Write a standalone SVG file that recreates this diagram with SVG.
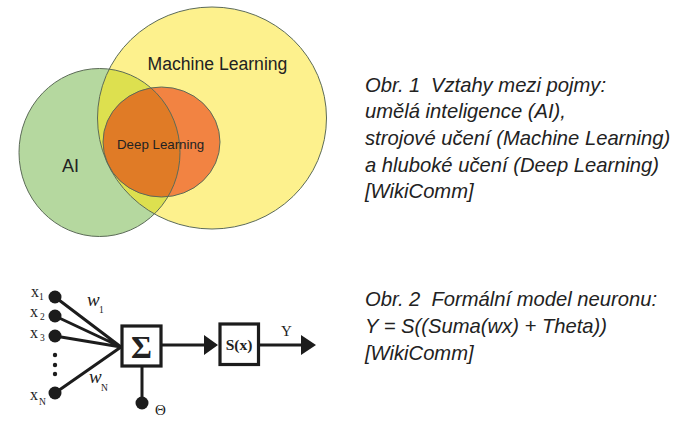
<svg xmlns="http://www.w3.org/2000/svg" width="696" height="431" viewBox="0 0 696 431">
<style>
.c{stroke:#5c6b58;stroke-width:1;fill:none}
.s{font-family:"Liberation Sans",Arial,sans-serif;fill:#222}
.cap{font-family:"Liberation Sans",Arial,sans-serif;font-style:italic;font-size:20.2px;fill:#222}
.t{font-family:"Liberation Serif","Times New Roman",serif;fill:#222}
.x{font-size:16px}
.u{font-size:9.5px}
.w{font-size:19px;font-style:italic}
.l{stroke:#1c1c1c;fill:none}
.d{fill:#1c1c1c}
.b{fill:#fff;stroke:#1c1c1c;stroke-width:3.2}
</style>
<defs>
<clipPath id="cg"><ellipse cx="99.5" cy="152.5" rx="80.5" ry="84"/></clipPath>
</defs>
<rect width="696" height="431" fill="#fff"/>
<g id="ai"><ellipse cx="99.5" cy="152.5" rx="80.5" ry="84" fill="#b5d89f"/></g>
<g id="ml"><ellipse cx="212" cy="118" rx="114.5" ry="111" fill="#fdf18d"/>
<ellipse cx="212" cy="118" rx="114.5" ry="111" fill="#dde04f" clip-path="url(#cg)"/></g>
<g id="dl"><ellipse cx="161.5" cy="142" rx="58.5" ry="55" fill="#f28342"/>
<ellipse cx="161.5" cy="142" rx="58.5" ry="55" fill="#e07b26" clip-path="url(#cg)"/></g>
<g id="outlines">
<ellipse class="c" cx="99.5" cy="152.5" rx="80.5" ry="84"/>
<ellipse class="c" cx="212" cy="118" rx="114.5" ry="111"/>
<ellipse class="c" cx="161.5" cy="142" rx="58.5" ry="55"/>
</g>
<text class="s" x="147.5" y="70" font-size="17.6">Machine Learning</text>
<text class="s" x="117" y="149" font-size="13.3">Deep Learning</text>
<text class="s" x="62" y="172" font-size="18">AI</text>

<g id="caption1" class="cap">
<text x="365" y="92">Obr. 1<tspan x="431">Vztahy mezi pojmy:</tspan></text>
<text x="365" y="118">umělá inteligence (AI),</text>
<text x="365" y="145">strojové učení (Machine Learning)</text>
<text x="365" y="172">a hluboké učení (Deep Learning)</text>
<text x="365" y="198">[WikiComm]</text>
</g>
<g id="caption2" class="cap">
<text x="365" y="306">Obr. 2<tspan x="431.5">Formální model neuronu:</tspan></text>
<text x="365" y="333">Y = S((Suma(wx) + Theta))</text>
<text x="365" y="360">[WikiComm]</text>
</g>

<g id="connectors">
<path class="l" stroke-width="3" d="M55 297L121 347M55 316L121 347M55 336L121 347M55 393L121 347"/>
<path class="l" stroke-width="3" d="M161 345H206M259 345H302M142 366V403"/>
<path class="d" d="M204 335L218 345L204 355ZM301 335L316 345L301 355Z"/>
</g>
<g id="x1"><circle class="d" cx="55" cy="297" r="6.5"/><text class="t x" x="31" y="297">x</text><text class="t u" x="39" y="300">1</text></g>
<g id="x2"><circle class="d" cx="55" cy="316" r="6.5"/><text class="t x" x="30" y="317">x</text><text class="t u" x="40" y="320">2</text></g>
<g id="x3"><circle class="d" cx="55" cy="336" r="6.5"/><text class="t x" x="30" y="338">x</text><text class="t u" x="40" y="341">3</text></g>
<g id="dots"><circle class="d" cx="55" cy="355" r="2.2"/><circle class="d" cx="55" cy="365" r="2.2"/><circle class="d" cx="55" cy="374" r="2.2"/></g>
<g id="xN"><circle class="d" cx="55" cy="393" r="6.5"/><text class="t x" x="30" y="400">x</text><text class="t u" x="39" y="405">N</text></g>
<g id="w1"><text class="t w" x="87" y="306">w</text><text class="t u" x="99" y="313">1</text></g>
<g id="wN"><text class="t w" x="89" y="383">w</text><text class="t u" x="101" y="391">N</text></g>
<g id="sum"><rect class="b" x="122" y="326" width="39" height="40"/><text class="t" x="141.5" y="358" font-size="32" font-weight="bold" text-anchor="middle">Σ</text></g>
<g id="theta"><circle class="d" cx="142" cy="403" r="6.5"/><text class="t" x="155" y="415" font-size="15">Θ</text></g>
<g id="sx"><rect class="b" x="220" y="324" width="38.5" height="40.5"/><text class="t" x="239" y="350" font-size="15.5" font-weight="bold" text-anchor="middle">S(x)</text></g>
<text class="t" x="281" y="336" font-size="15">Y</text>
</svg>
